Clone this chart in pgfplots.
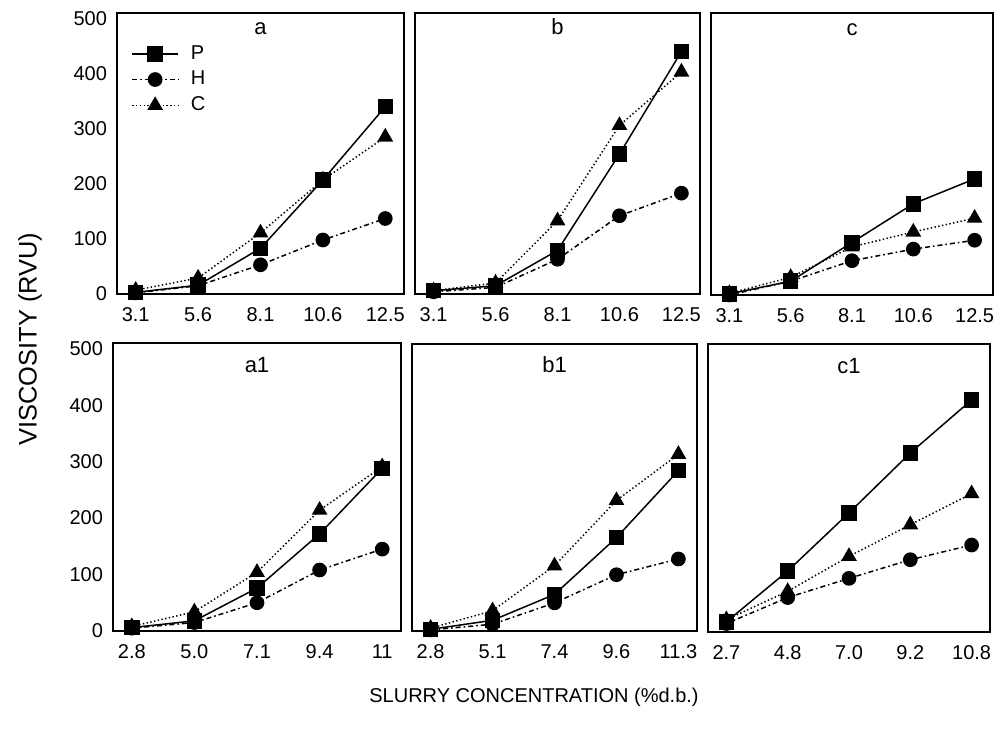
\documentclass[border=0pt]{standalone}
\usepackage{fontspec}
\setmainfont{Liberation Sans}
\usepackage{pgfplots}
\usepackage{pgfplotstable}
\pgfplotsset{compat=1.18}

% columns: index, P, H, C
\pgfplotstableread{
x P H C
0 3 2 7
1 16 15 29
2 83 53 111
3 207 98 207
4 340 137 285
}\tabA
\pgfplotstableread{
x P H C
0 6 4 6
1 15 12 20
2 79 63 133
3 254 142 306
4 440 183 403
}\tabB
\pgfplotstableread{
x P H C
0 2 0 3
1 25 25 32
2 95 62 87
3 165 83 114
4 210 99 139
}\tabC
\pgfplotstableread{
x P H C
0 6 5 8
1 18 15 34
2 76 50 104
3 172 108 214
4 288 145 291
}\tabAA
\pgfplotstableread{
x P H C
0 3 2 5
1 19 12 36
2 65 50 116
3 166 100 232
4 285 128 314
}\tabBB
\pgfplotstableread{
x P H C
0 18 15 22
1 108 61 72
2 211 95 134
3 317 128 190
4 411 154 245
}\tabCC

\pgfplotsset{
  panel/.style={
    scale only axis, anchor=south west,
    xmin=-0.3, xmax=4.3, ymin=0, ymax=510,
    xtick={0,1,2,3,4}, ytick=\empty,
    major tick length=0pt,
    axis line style={line width=1pt},
    clip=false,
    tick label style={font=\fontsize{10}{12}\selectfont},
    /pgf/number format/assume math mode=true,
    xticklabel style={yshift=-3pt, text height=7.2pt, text depth=0pt},
    yticklabel style={xshift=-1.5pt},
  },
  leftpanel/.style={ytick={0,100,200,300,400,500}},
  sP/.style={black, line width=0.75pt, solid, mark=square*, mark size=3.5pt, mark options={solid}},
  sH/.style={black, line width=0.75pt, dash pattern=on 2.5pt off 1.5pt on 0.8pt off 1.5pt, mark=*, mark size=3.3pt, mark options={solid}},
  sC/.style={black, line width=0.75pt, dash pattern=on 0.7pt off 1.2pt, mark=triangle*, mark size=3.8pt, mark options={solid}},
}

\newcommand{\series}[1]{%
  \addplot[sC] table[x=x, y=C] {#1};
  \addplot[sH] table[x=x, y=H] {#1};
  \addplot[sP] table[x=x, y=P] {#1};
}

\begin{document}
\begin{tikzpicture}
\useasboundingbox (0,0) rectangle (500pt,364pt);

% top row
\begin{axis}[panel, leftpanel, at={(58.5pt,217pt)}, width=143.5pt, height=140.5pt,
    xticklabels={3.1,5.6,8.1,10.6,12.5},
    reverse legend,
    legend style={at={(rel axis cs:0,1)}, anchor=north west, xshift=4pt, yshift=-12pt,
      draw=none, fill=none, font=\fontsize{10}{12}\selectfont, row sep=0.5pt,
      cells={anchor=west}},
    legend image code/.code={\draw[mark repeat=2, mark phase=2] plot coordinates {(0pt,0pt) (11.5pt,0pt) (23pt,0pt)};},
  ]
  \series{\tabA}
  \legend{\hspace{4pt}C,\hspace{4pt}H,\hspace{4pt}P}
  \node[anchor=base, font=\fontsize{11}{13}\selectfont] at (rel axis cs:0.5,1) [yshift=-11pt] {a};
\end{axis}

\begin{axis}[panel, at={(207.5pt,217pt)}, width=142.5pt, height=140.5pt,
    xticklabels={3.1,5.6,8.1,10.6,12.5}]
  \series{\tabB}
  \node[anchor=base, font=\fontsize{11}{13}\selectfont] at (rel axis cs:0.5,1) [yshift=-11pt] {b};
\end{axis}

\begin{axis}[panel, at={(355.5pt,216.5pt)}, width=141pt, height=141pt,
    xticklabels={3.1,5.6,8.1,10.6,12.5}]
  \series{\tabC}
  \node[anchor=base, font=\fontsize{11}{13}\selectfont] at (rel axis cs:0.5,1) [yshift=-11pt] {c};
\end{axis}

% bottom row
\begin{axis}[panel, leftpanel, at={(56.5pt,48.5pt)}, width=144pt, height=144pt,
    xticklabels={2.8,5.0,7.1,9.4,11}]
  \series{\tabAA}
  \node[anchor=base, font=\fontsize{11}{13}\selectfont] at (rel axis cs:0.5,1) [yshift=-14.5pt] {a1};
\end{axis}

\begin{axis}[panel, at={(206pt,48.5pt)}, width=142.5pt, height=143.5pt,
    xticklabels={2.8,5.1,7.4,9.6,11.3}]
  \series{\tabBB}
  \node[anchor=base, font=\fontsize{11}{13}\selectfont] at (rel axis cs:0.5,1) [yshift=-14.5pt] {b1};
\end{axis}

\begin{axis}[panel, at={(354pt,48pt)}, width=141pt, height=144pt,
    xticklabels={2.7,4.8,7.0,9.2,10.8}]
  \series{\tabCC}
  \node[anchor=base, font=\fontsize{11}{13}\selectfont] at (rel axis cs:0.5,1) [yshift=-14.5pt] {c1};
\end{axis}

\node[rotate=90, font=\fontsize{12.7}{15}\selectfont] at (15pt,194.5pt) {VISCOSITY (RVU)};
\node[font=\fontsize{10}{12}\selectfont] at (267pt,15.5pt) {SLURRY CONCENTRATION (\%d.b.)};
\end{tikzpicture}
\end{document}
